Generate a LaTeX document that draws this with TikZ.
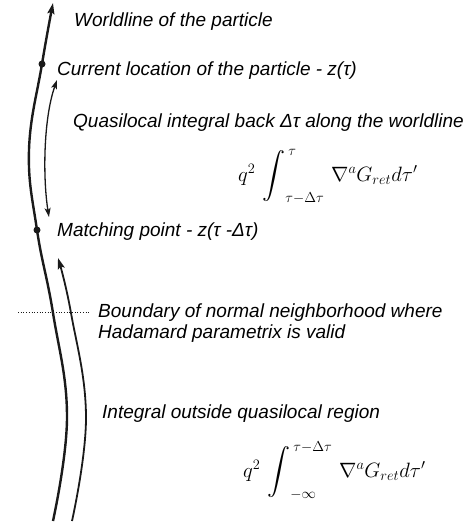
\documentclass[tikz,border=0pt]{standalone}
\usepackage{amsmath,amssymb,graphicx}
\usepackage[no-math]{fontspec}
\setmainfont{Liberation Sans}
\usepackage{tikz}
\usetikzlibrary{arrows.meta,calc}
\definecolor{INK}{HTML}{1A1A1A}
\newcommand\wlint{\mathop{\vcenter{\hbox{\scalebox{1.15}{$\displaystyle\int$}}}}\nolimits}

\begin{document}
\begin{tikzpicture}[x=1pt,y=-1pt]
\tikzset{wline/.style={line width=2.4pt,INK},iline/.style={line width=1.8pt,INK},qline/.style={line width=1.3pt,INK},
 tip/.style={-{Stealth[length=11pt,width=7pt,inset=2pt]}},lbl/.style={anchor=base west,inner sep=0pt,font=\fontsize{19}{22}\selectfont\itshape},
 eq/.style={anchor=base west,inner sep=0pt,font=\fontsize{20}{24}\selectfont},dot/.style={circle,fill=INK,inner sep=0pt,minimum size=7pt}}
\useasboundingbox (0,0) rectangle (473,524);
% points on the worldline
\coordinate (wtop) at (53,3);
\node[dot] (now) at (42,64){};
\node[dot] (match) at (37,230){};
\coordinate (wbot) at (53,521);
\draw[wline,tip] plot[smooth,tension=0.7] coordinates {(wbot) (67,417) (53,313) (match) (29,150) (now) (wtop)};
% integral outside the quasilocal region
\coordinate (obot) at (72,521);
\coordinate (otop) at (58,258);
\draw[iline,tip] plot[smooth,tension=0.7] coordinates {(obot) (86,417) (71,313) (otop)};
% quasilocal part
\coordinate (qbot) at (49,217);
\coordinate (qtop) at (57,80);
\draw[qline,{Stealth[length=9pt,width=6pt,inset=2pt]}-{Stealth[length=9pt,width=6pt,inset=2pt]}] (qbot) .. controls (43,180) and (43,120) .. (qtop);
% normal neighborhood
\coordinate (bl) at (18,312);
\coordinate (br) at (89,312);
\draw[INK,line width=0.7pt,dotted] (bl) -- (br);
\node[lbl] (tworld) at (74,27) {Worldline of the particle};
\node[lbl] (tnow) at (57,76) {Current location of the particle - z(τ)};
\node[lbl] (tquasi) at (73,128) {Quasilocal integral back Δτ along the worldline};
\node[eq] (eqin) at (238,181) {$q^2\,\wlint_{\tau-\Delta\tau}^{\kern3pt\tau}\,\nabla^aG_{ret}d\tau'$};
\node[lbl] (tmatch) at (57,236) {Matching point - z(τ -Δτ)};
\node[lbl] (tbound) at (98,317) {Boundary of normal neighborhood where};
\node[lbl] (thada) at (98,338) {Hadamard parametrix is valid};
\node[lbl] (tout) at (102,418) {Integral outside quasilocal region};
\node[eq] (eqout) at (243,477) {$q^2\,\wlint_{-\infty}^{\kern3pt\tau-\Delta\tau}\,\nabla^aG_{ret}d\tau'$};
\end{tikzpicture}
\end{document}
